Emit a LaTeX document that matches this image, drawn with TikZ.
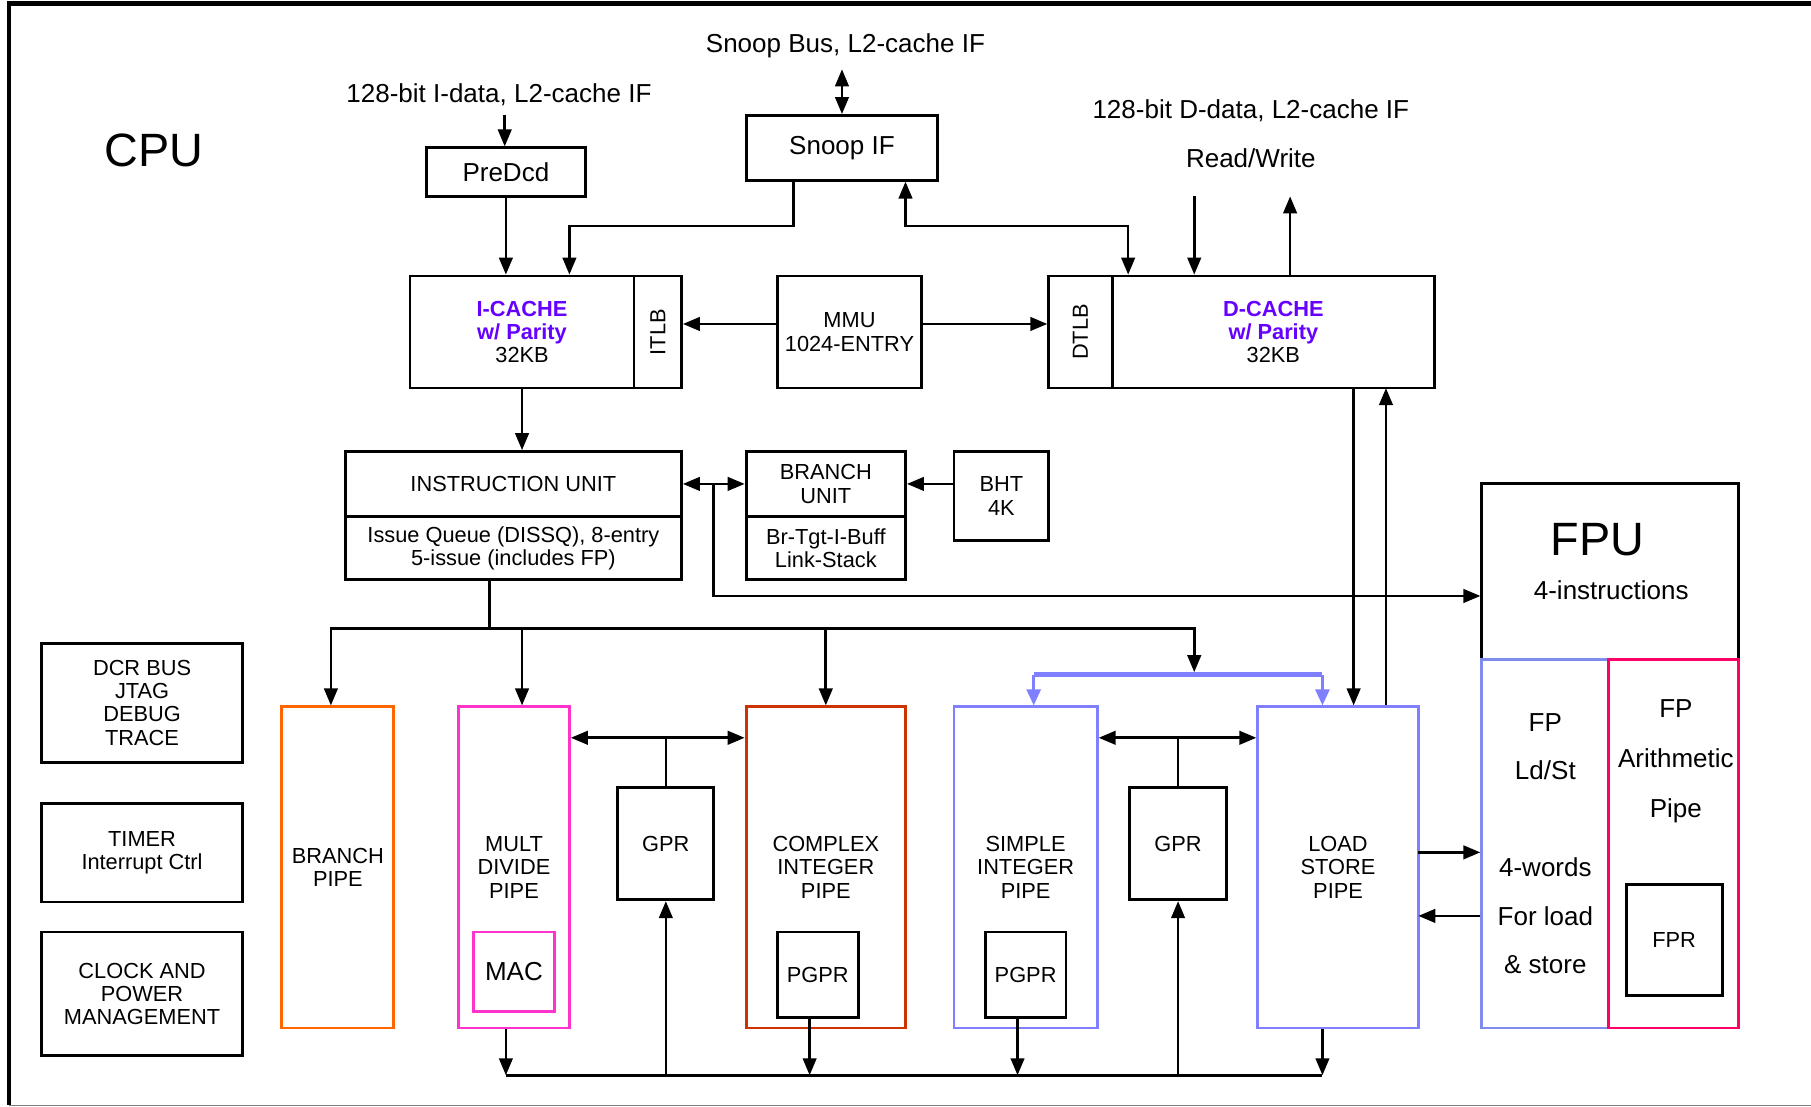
\documentclass[tikz,border=0pt]{standalone}
\usepackage{fontspec}
\setmainfont{Liberation Sans}
\definecolor{pipeorange}{HTML}{FF6600}
\definecolor{pipemagenta}{HTML}{FF33CC}
\definecolor{pipered}{HTML}{CC3300}
\definecolor{pipeblue}{HTML}{8080FF}
\definecolor{fpblue}{HTML}{7F8CEB}
\definecolor{fpcrimson}{HTML}{FF0066}
\definecolor{cachepurple}{HTML}{6600FF}
\usetikzlibrary{arrows.meta,calc}
\newcommand{\boxfont}{\fontsize{6.2}{6.6}\selectfont}
\newcommand{\lblfont}{\fontsize{7.4}{8.6}\selectfont}
\newcommand{\bigfont}{\fontsize{13.3}{15}\selectfont}
\tikzset{
    block/.style={
        draw=black,
        fill=white,
        line width=0.8pt,
        inner sep=0pt,
        align=center,
        font=\boxfont
    },
    pipe/.style={
        block,
        minimum height=32.11mm
    },
    cache/.style={
        block,
        minimum height=11.20mm
    },
    textlabel/.style={
        inner sep=1pt,
        align=center,
        font=\lblfont
    },
    sigarrow/.style={
        -{Triangle[length=1.7mm,width=1.35mm]},
        line width=0.75pt
    },
    sigboth/.style={
        {Triangle[length=1.7mm,width=1.35mm]}-{Triangle[length=1.7mm,width=1.35mm]},
        line width=0.75pt
    },
    sigline/.style={
        line width=0.75pt
    },
    issuebar/.style={
        draw=pipeblue,
        line width=1.6pt
    },
    issuearrow/.style={
        -{Triangle[length=1.6mm,width=1.4mm]},
        draw=pipeblue,
        line width=0.75pt
    }
}

\begin{document}
\begin{tikzpicture}[x=0.1155mm,y=-0.1155mm]
        \useasboundingbox (0,0) rectangle (1568,958);
        % frame
        \draw[line width=1.2pt] (1568,3) -- (8,3) -- (8,957);
        \draw[gray,line width=0.4pt] (8,957) -- (1568,957);
        \node[font=\bigfont] (cpu) at (133,130) {CPU};

        % L2 interfaces
        \node[textlabel] (idata) at (432,82) {128-bit I-data, L2-cache IF};
        \node[textlabel] (snoopbus) at (732,40) {Snoop Bus, L2-cache IF};
        \node[textlabel] (ddata) at (1083,96) {128-bit D-data, L2-cache IF};
        \node[textlabel] (rw) at (1083,137) {Read/Write};
        \node[block,font=\lblfont,minimum width=19.17mm,minimum height=6.47mm]
            (snoop) at (729,128) {Snoop IF};
        \node[block,font=\lblfont,minimum width=15.94mm,minimum height=4.85mm]
            (predcd) at (438,149) {PreDcd};

        % caches and MMU
        \node[cache,minimum width=22.41mm] (icache) at (452,287.5)
            {\textcolor{cachepurple}{\bfseries I-CACHE}\\
             \textcolor{cachepurple}{\bfseries w/ Parity}\\32KB};
        \node[cache,minimum width=4.74mm] (itlb) at (569.5,287.5)
            {\rotatebox{90}{ITLB}};
        \node[cache,minimum width=14.44mm] (mmu) at (735.5,287.5)
            {MMU\\1024-ENTRY};
        \node[cache,minimum width=6.35mm] (dtlb) at (935.5,287.5)
            {\rotatebox{90}{DTLB}};
        \node[cache,minimum width=32.22mm] (dcache) at (1102.5,287.5)
            {\textcolor{cachepurple}{\bfseries D-CACHE}\\
             \textcolor{cachepurple}{\bfseries w/ Parity}\\32KB};

        % fetch / branch
        \node[block,minimum width=33.61mm,minimum height=6.47mm] (iunit)
            at (444.5,419) {INSTRUCTION UNIT};
        \node[block,minimum width=33.61mm,minimum height=6.35mm] (issueq)
            at (444.5,474.5) {Issue Queue (DISSQ), 8-entry\\5-issue (includes FP)};
        \node[block,minimum width=15.94mm,minimum height=6.47mm] (bunit)
            at (715,419) {BRANCH\\UNIT};
        \node[block,minimum width=15.94mm,minimum height=6.35mm] (btgt)
            at (715,474.5) {Br-Tgt-I-Buff\\Link-Stack};
        \node[block,minimum width=9.47mm,minimum height=8.89mm] (bht)
            at (867,429.5) {BHT\\4K};

        % side blocks
        \node[block,minimum width=20.10mm,minimum height=11.90mm] (dcr)
            at (123,608.5) {DCR BUS\\JTAG\\DEBUG\\TRACE};
        \node[block,minimum width=20.10mm,minimum height=9.82mm] (timer)
            at (123,738.5) {TIMER\\Interrupt Ctrl};
        \node[block,minimum width=20.10mm,minimum height=12.36mm] (clock)
            at (123,860.5) {CLOCK AND\\POWER\\MANAGEMENT};

        % execution pipes
        \node[pipe,draw=pipeorange,minimum width=11.20mm] (brpipe)
            at (292.5,751) {BRANCH\\PIPE};
        \node[pipe,draw=pipemagenta,minimum width=11.09mm] (mult)
            at (445,751) {MULT\\DIVIDE\\PIPE};
        \node[block,draw=pipemagenta,font=\lblfont,minimum width=8.09mm,
            minimum height=7.97mm] (mac) at (445,841.5) {MAC};
        \node[block,minimum width=9.59mm,minimum height=11.20mm] (gpra)
            at (576.5,730.5) {GPR};
        \node[pipe,draw=pipered,minimum width=15.94mm] (cplx)
            at (715,751) {COMPLEX\\INTEGER\\PIPE};
        \node[block,minimum width=8.09mm,minimum height=8.55mm] (pgpra)
            at (708,844) {PGPR};
        \node[pipe,draw=pipeblue,minimum width=14.32mm] (simple)
            at (888,751) {SIMPLE\\INTEGER\\PIPE};
        \node[block,minimum width=8.09mm,minimum height=8.55mm] (pgprb)
            at (888,844) {PGPR};
        \node[block,minimum width=9.70mm,minimum height=11.20mm] (gprb)
            at (1020,730.5) {GPR};
        \node[pipe,draw=pipeblue,minimum width=16.05mm] (lsu)
            at (1158.5,751) {LOAD\\STORE\\PIPE};

        % FPU
        \node[block,minimum width=25.64mm,minimum height=17.56mm] (fpu)
            at (1394,495) {};
        \node[font=\bigfont,inner sep=0pt] (fputitle) at (1383,467) {FPU};
        \node[textlabel] (fpusub) at (1395,511) {4-instructions};
        \node[block,draw=fpblue,font=\fontsize{7.4}{13.8}\selectfont,
            minimum width=12.71mm,minimum height=36.84mm] (fpldst) at (1338,730.5)
            {FP\\Ld/St\\[13.8pt]4-words\\For load\\\& store};
        \node[block,draw=fpcrimson,minimum width=12.94mm,minimum height=36.84mm]
            (fparith) at (1449,730.5) {};
        \node[inner sep=0pt,align=center,font=\fontsize{7.4}{14.2}\selectfont]
            (fpatxt) at (1451,659) {FP\\Arithmetic\\Pipe};
        \node[block,minimum width=9.59mm,minimum height=11.09mm] (fpr)
            at (1449.5,814) {FPR};

        % helper points
        \coordinate (idin) at (437,100);
        \coordinate (snin) at (729,60);
        \coordinate (rdin) at (1034,170);
        \coordinate (wrout) at (1117,170);
        \coordinate (isb) at (424,544);
        \coordinate (sbar) at (1034,582);
        \coordinate (bl) at (895,584);
        \coordinate (br) at (1145,584);
        \coordinate (dl) at (1172,336);
        \coordinate (ul) at (1200,336);
        \coordinate (lfa) at (1228,738);
        \coordinate (lfb) at (1228,793);
        \coordinate (bbl) at (438,931);
        \coordinate (bbr) at (1145,931);

        % top connectors
        \draw[sigarrow] (idin) -- (idin |- predcd.north);
        \draw[sigboth] (snin) -- (snin |- snoop.north);
        \draw[sigarrow] (predcd.south) -- (predcd.south |- icache.north);
        \draw[sigarrow] ($(snoop.south)+(-42,0)$) |- ($(icache.north)+(41,-42)$)
            -- ($(icache.north)+(41,0)$);
        \draw[sigboth] ($(dcache.north west)+(15,0)$) -- ++(0,-42)
            -| ($(snoop.south)+(55,0)$);
        \draw[sigarrow] (rdin) -- (rdin |- dcache.north);
        \draw[sigarrow] (wrout |- dcache.north) -- (wrout);
        \draw[sigarrow] ($(mmu.west)+(0,-7)$) -- ($(itlb.east)+(0,-7)$);
        \draw[sigarrow] ($(mmu.east)+(0,-7)$) -- ($(dtlb.west)+(0,-7)$);
        \draw[sigarrow] (icache.south) -- (icache.south |- iunit.north);
        \draw[sigarrow] (bht.west |- bunit.east) -- (bunit.east);
        \draw[sigboth] (iunit.east) -- (bunit.west);
        \draw[sigarrow] ($(iunit.east)!0.5!(bunit.west)$) |- ($(fpu.west)+(0,21)$);
        \draw[sigarrow] (dl) -- (dl |- lsu.north);
        \draw[sigarrow] (ul |- lsu.north) -- (ul);

        % issue
        \draw[sigline] (issueq.south -| isb) -- (isb);
        \draw[sigarrow] (isb) -| ($(brpipe.north)+(-6,0)$);
        \draw[sigarrow] ($(mult.north |- isb)+(7,0)$) -- ($(mult.north)+(7,0)$);
        \draw[sigarrow] (cplx.north |- isb) -- (cplx.north);
        \draw[sigarrow] (isb) -| (sbar);
        \draw[issuebar] (bl) -- (br);
        \draw[issuearrow] (bl) -- (bl |- simple.north);
        \draw[issuearrow] (br) -- (br |- lsu.north);

        % register files
        \draw[sigline] (gpra.north) -- ++(0,-42) coordinate (gpraj);
        \draw[sigboth] (mult.east |- gpraj) -- (cplx.west |- gpraj);
        \draw[sigline] (gprb.north) -- ++(0,-42) coordinate (gprbj);
        \draw[sigboth] (simple.east |- gprbj) -- (lsu.west |- gprbj);
        \draw[sigarrow] (lfa) -- (lfa -| fpldst.west);
        \draw[sigarrow] (lfb -| fpldst.west) -- (lfb);

        % result bus
        \draw[sigline] (bbl) -- (bbr);
        \draw[sigarrow] (bbl |- mult.south) -- (bbl);
        \draw[sigarrow] ($(pgpra.south)+(-7,0)$) -- ($(pgpra.south |- bbl)+(-7,0)$);
        \draw[sigarrow] ($(pgprb.south)+(-7,0)$) -- ($(pgprb.south |- bbl)+(-7,0)$);
        \draw[sigarrow] (bbr |- lsu.south) -- (bbr);
        \draw[sigarrow] (bbl -| gpra.south) -- (gpra.south);
        \draw[sigarrow] (bbl -| gprb.south) -- (gprb.south);
\end{tikzpicture}
\end{document}
